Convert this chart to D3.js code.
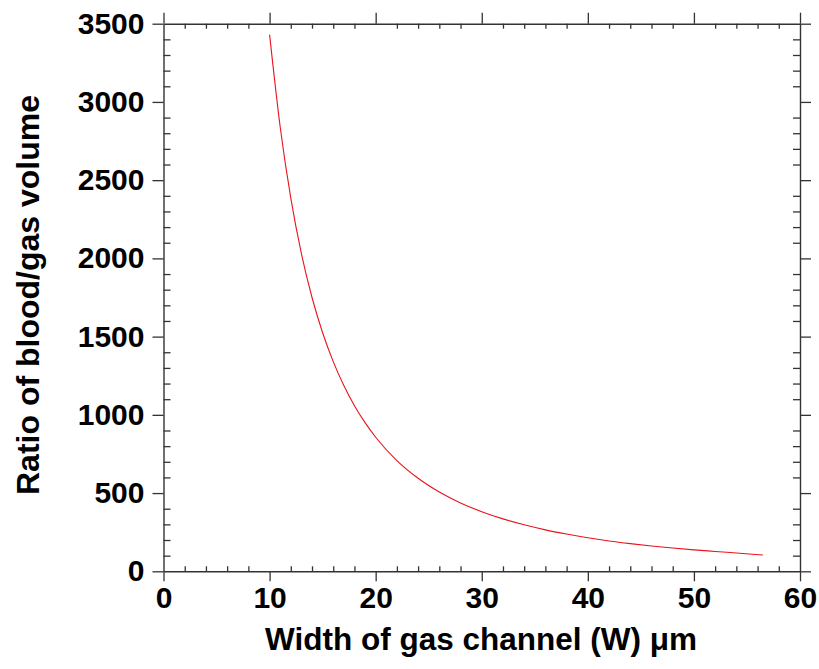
<!DOCTYPE html>
<html>
<head>
<meta charset="utf-8">
<script src="https://cdn.jsdelivr.net/npm/d3@7"></script>
<style>
  body { margin: 0; background: #fff; }
  text { font-family: "Liberation Sans", Arial, sans-serif; font-weight: bold; fill: #000; }
</style>
</head>
<body>
<div id="chart"></div>
<script>
// values
const widths = [10, 11, 12, 13, 14, 15, 16, 17, 18, 19, 20, 22, 24, 26, 28, 30, 32, 34, 36, 38, 40, 42, 44, 46, 48, 50, 52, 54, 56.5];
const ratios = [3430, 2840, 2385, 2030, 1750, 1525, 1340, 1187, 1058, 950, 857, 708, 595, 507, 437, 381, 335, 297, 265, 238, 214, 194, 177, 162, 149, 137, 127, 117, 104];
const xTicks = [0, 10, 20, 30, 40, 50, 60];
const yTicks = [0, 500, 1000, 1500, 2000, 2500, 3000, 3500];

const width = 819, height = 669;
const margin = {left: 163.5, right: 19, top: 23.7, bottom: 97.7};

const svg = d3.select('#chart').append('svg')
  .attr('width', width)
  .attr('height', height);

const x = d3.scaleLinear().domain([0, 60]).range([margin.left, width - margin.right]);
const y = d3.scaleLinear().domain([0, 3500]).range([height - margin.bottom, margin.top]);

const axisColor = '#333';
const minorX = d3.range(0, 60.001, 2).filter(v => v % 10 !== 0);
const minorY = d3.range(0, 3500.001, 100).filter(v => v % 500 !== 0);
const fmt = d3.format('d');

function styleAxis(g) {
  g.select('.domain').attr('stroke', axisColor).attr('stroke-width', 1.4);
  g.selectAll('.tick line').attr('stroke', axisColor).attr('stroke-width', 1.3);
}

// bottom axis: major ticks out, minor in
svg.append('g')
  .attr('transform', `translate(0,${y(0)})`)
  .call(d3.axisBottom(x).tickValues(xTicks).tickFormat(fmt).tickSize(10).tickPadding(5).tickSizeOuter(0))
  .call(styleAxis)
  .call(g => g.selectAll('.tick text').attr('font-size', 30));
svg.append('g')
  .attr('transform', `translate(0,${y(0)})`)
  .call(d3.axisTop(x).tickValues(minorX).tickSize(5).tickFormat('').tickSizeOuter(0))
  .call(styleAxis)
  .call(g => g.select('.domain').remove());

// top axis
svg.append('g')
  .attr('transform', `translate(0,${y(3500)})`)
  .call(d3.axisTop(x).tickValues(xTicks).tickSize(11).tickFormat('').tickSizeOuter(0))
  .call(styleAxis);
svg.append('g')
  .attr('transform', `translate(0,${y(3500)})`)
  .call(d3.axisBottom(x).tickValues(minorX).tickSize(5).tickFormat('').tickSizeOuter(0))
  .call(styleAxis)
  .call(g => g.select('.domain').remove());

// left axis
svg.append('g')
  .attr('transform', `translate(${x(0)},0)`)
  .call(d3.axisLeft(y).tickValues(yTicks).tickFormat(fmt).tickSize(11).tickPadding(8).tickSizeOuter(0))
  .call(styleAxis)
  .call(g => g.selectAll('.tick text').attr('font-size', 30));
svg.append('g')
  .attr('transform', `translate(${x(0)},0)`)
  .call(d3.axisRight(y).tickValues(minorY).tickSize(7).tickFormat('').tickSizeOuter(0))
  .call(styleAxis)
  .call(g => g.select('.domain').remove());

// right axis
svg.append('g')
  .attr('transform', `translate(${x(60)},0)`)
  .call(d3.axisRight(y).tickValues(yTicks).tickSize(11).tickFormat('').tickSizeOuter(0))
  .call(styleAxis);
svg.append('g')
  .attr('transform', `translate(${x(60)},0)`)
  .call(d3.axisLeft(y).tickValues(minorY).tickSize(7).tickFormat('').tickSizeOuter(0))
  .call(styleAxis)
  .call(g => g.select('.domain').remove());

// curve
const line = d3.line()
  .x((d, i) => x(widths[i]))
  .y(d => y(d))
  .curve(d3.curveMonotoneX);

svg.append('path')
  .datum(ratios)
  .attr('d', line)
  .attr('fill', 'none')
  .attr('stroke', '#e8141c')
  .attr('stroke-width', 1.1);

// axis titles
svg.append('text')
  .attr('x', 481)
  .attr('y', 650)
  .attr('text-anchor', 'middle')
  .attr('font-size', 31.5)
  .text('Width of gas channel (W) μm');

svg.append('text')
  .attr('transform', `translate(39,295) rotate(-90)`)
  .attr('text-anchor', 'middle')
  .attr('font-size', 32)
  .text('Ratio of blood/gas volume');
</script>
</body>
</html>
